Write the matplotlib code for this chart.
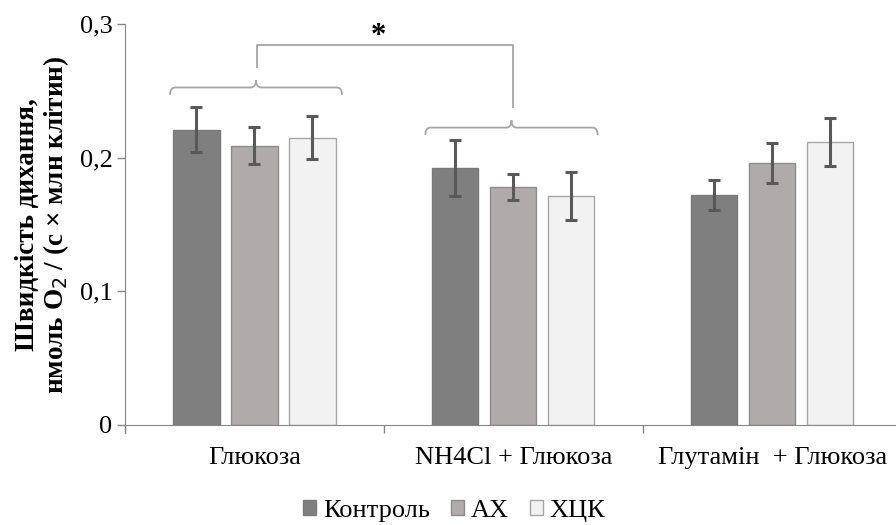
import matplotlib.pyplot as plt
from matplotlib.path import Path
from matplotlib.patches import PathPatch
import numpy as np

plt.rcParams['font.family'] = ['Liberation Serif', 'DejaVu Serif']

# data
categories = ['Глюкоза', 'NH4Cl + Глюкоза', 'Глутамін  + Глюкоза']
series = ['Контроль', 'АХ', 'ХЦК']
control = [0.221, 0.192, 0.172]
ax_vals = [0.209, 0.178, 0.196]
hck_vals = [0.215, 0.171, 0.212]
control_err = [0.017, 0.021, 0.011]
ax_err = [0.014, 0.010, 0.015]
hck_err = [0.016, 0.018, 0.018]

values = [control, ax_vals, hck_vals]
errors = [control_err, ax_err, hck_err]
colors = ['#7f7f7f', '#afabab', '#f2f2f2']
edges = ['#7a7a7a', '#8c8c8c', '#a6a6a6']

fig = plt.figure(figsize=(8.96, 5.25), dpi=100)
ax = fig.add_axes([0.1395, 0.1905, 0.867, 0.7638])

x = np.arange(len(categories))
step = 0.224
width = 0.178
for i, (vals, errs) in enumerate(zip(values, errors)):
    ax.bar(x + (i - 1) * step, vals, width, color=colors[i], edgecolor=edges[i],
           linewidth=1.0, label=series[i],
           yerr=errs, error_kw=dict(ecolor='#595959', elinewidth=2.2, capsize=4, capthick=2.2))

ax.set_xlim(-0.5, 2.5)
ax.set_ylim(0, 0.3)
ax.set_yticks([0, 0.1, 0.2, 0.3])
ax.set_yticklabels(['0', '0,1', '0,2', '0,3'], fontsize=19)
ax.set_xticks(x)
ax.set_xticklabels(categories, fontsize=19)
ax.set_xticks([-0.5, 0.5, 1.5, 2.5], minor=True)
ax.tick_params(axis='x', which='major', length=0, pad=16)
ax.tick_params(axis='x', which='minor', length=6, color='#868686', width=1)
ax.tick_params(axis='y', length=6, color='#868686', width=1, pad=3)
for s in ['top', 'right']:
    ax.spines[s].set_visible(False)
for s in ['left', 'bottom']:
    ax.spines[s].set_color('#868686')
ax.spines['left'].set_bounds(-0.006, 0.3)

ax.set_ylabel('Швидкість дихання,\nнмоль O$_2$ / (с × млн клітин)',
              fontsize=19.5, fontweight='bold', labelpad=6, linespacing=1.05)


def brace(x0, x1, y, h, color='#a6a6a6'):
    xm = (x0 + x1) / 2
    r = (x1 - x0) * 0.03
    verts = [(x0, y - h), (x0, y), (x0 + r, y),
             (xm - r, y), (xm, y), (xm, y + h),
             (xm, y), (xm + r, y),
             (x1 - r, y), (x1, y), (x1, y - h)]
    codes = [Path.MOVETO, Path.CURVE3, Path.CURVE3,
             Path.LINETO, Path.CURVE3, Path.CURVE3,
             Path.CURVE3, Path.CURVE3,
             Path.LINETO, Path.CURVE3, Path.CURVE3]
    ax.add_patch(PathPatch(Path(verts, codes), fill=False, edgecolor=color,
                           linewidth=1.3, clip_on=False))


brace(-0.326, 0.338, 0.2525, 0.0055)
brace(1 - 0.34, 1 + 0.325, 0.2225, 0.0055)
ax.plot([0.01, 0.01, 0.997, 0.997], [0.2678, 0.2842, 0.2842, 0.2378],
        color='#a6a6a6', linewidth=1.3, clip_on=False)
ax.text(0.48, 0.2905, '*', fontsize=22, fontweight='bold', ha='center', va='center')

fig.legend(loc='center', bbox_to_anchor=(0.507, 0.027), ncol=3, frameon=False,
           fontsize=19, handlelength=0.5, handleheight=0.5, handletextpad=0.25,
           columnspacing=0.8, borderpad=0)

fig.savefig('out.png', dpi=100)
